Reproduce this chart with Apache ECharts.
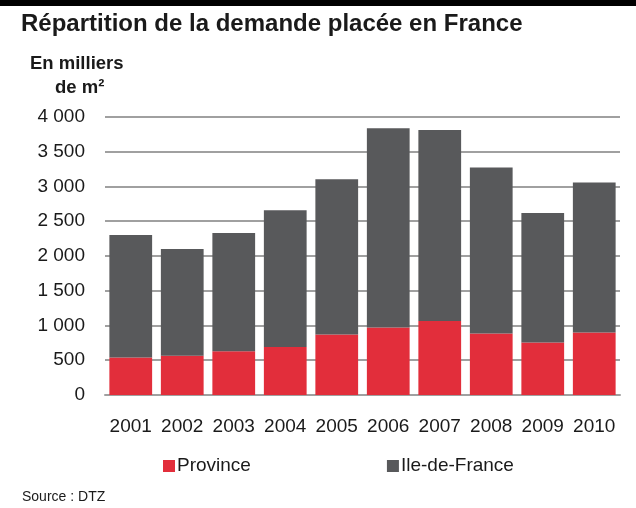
<!DOCTYPE html>
<html>
<head>
<meta charset="utf-8">
<script src="https://cdn.jsdelivr.net/npm/echarts@6/dist/echarts.min.js"></script>
<style>
  html, body { margin: 0; padding: 0; background: #fff; }
  #chart { width: 636px; height: 508px; }
</style>
</head>
<body>
<div id="chart"></div>
<script>
// données (milliers de m²)
const years = ["2001", "2002", "2003", "2004", "2005", "2006", "2007", "2008", "2009", "2010"];
const province = [540, 565, 630, 690, 870, 970, 1065, 885, 755, 900];
const ileDeFrance = [1760, 1535, 1700, 1965, 2230, 2865, 2745, 2385, 1860, 2155];
const yTicks = [0, 500, 1000, 1500, 2000, 2500, 3000, 3500, 4000];

const font = "Liberation Sans, Arial, sans-serif";
const myChart = echarts.init(document.getElementById("chart"));

// séparateur de milliers : espace
const fmt = (v) => String(v).replace(/\B(?=(\d{3})+(?!\d))/g, " ");

const options = {
  animation: false,
  textStyle: { fontFamily: font },
  graphic: [
    { type: "rect", left: 0, top: 0, shape: { width: 636, height: 6 }, style: { fill: "#000" } },
    {
      type: "text", x: 21, y: 24.5,
      style: { text: "Répartition de la demande placée en France", font: "bold 24px " + font, fill: "#1a1a1a", verticalAlign: "middle" },
    },
    {
      type: "text", x: 30, y: 64,
      style: { text: "En milliers", font: "bold 18.5px " + font, fill: "#1a1a1a", verticalAlign: "middle" },
    },
    {
      type: "text", x: 55, y: 87.5,
      style: { text: "de m²", font: "bold 18.5px " + font, fill: "#1a1a1a", verticalAlign: "middle" },
    },
    {
      type: "text", x: 22, y: 497,
      style: { text: "Source : DTZ", font: "14px " + font, fill: "#1a1a1a", verticalAlign: "middle" },
    },
  ],
  legend: {
    top: 456.5,
    left: 163,
    padding: 0,
    itemWidth: 12,
    itemHeight: 12,
    itemGap: 136,
    icon: "rect",
    textStyle: { fontSize: 19, color: "#1a1a1a", padding: [0, 0, 0, -3] },
    data: ["Province", "Ile-de-France"],
  },
  grid: { left: 105, right: 16, top: 116.7, bottom: 113 },
  xAxis: {
    type: "category",
    data: years,
    axisTick: { show: false },
    axisLine: { lineStyle: { color: "#a0a0a0", width: 2 } },
    axisLabel: { fontSize: 19, color: "#1a1a1a", margin: 22, interval: 0, hideOverlap: false },
  },
  yAxis: {
    type: "value",
    min: yTicks[0],
    max: yTicks[yTicks.length - 1],
    interval: 500,
    axisLine: { show: false },
    axisTick: { show: false },
    splitLine: { lineStyle: { color: "#a0a0a0", width: 2 } },
    axisLabel: { fontSize: 19, color: "#1a1a1a", margin: 20, formatter: fmt },
  },
  series: [
    {
      name: "Province",
      type: "bar",
      stack: "total",
      data: province,
      barCategoryGap: "17%",
      itemStyle: { color: "#E22E3B" },
    },
    {
      name: "Ile-de-France",
      type: "bar",
      stack: "total",
      data: ileDeFrance,
      barCategoryGap: "17%",
      itemStyle: { color: "#58595B" },
    },
  ],
};

myChart.setOption(options);
</script>
</body>
</html>
